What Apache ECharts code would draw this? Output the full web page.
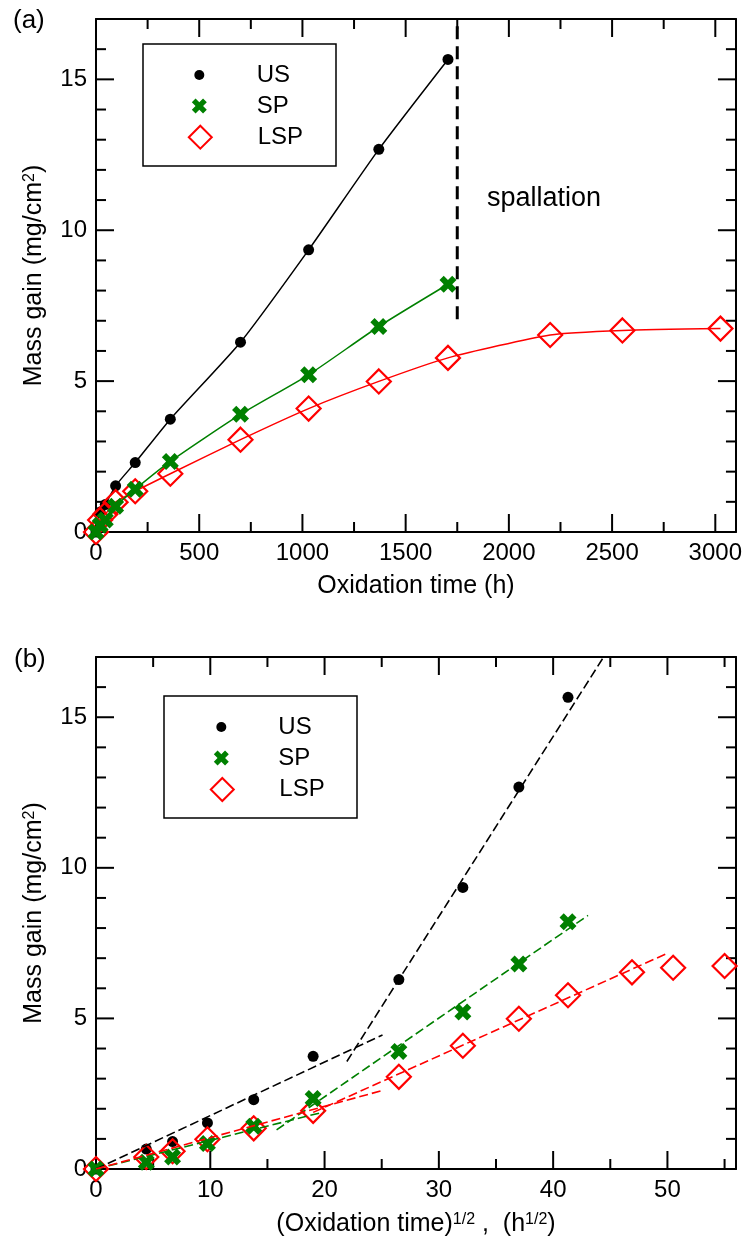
<!DOCTYPE html>
<html><head><meta charset="utf-8">
<script src="https://cdn.jsdelivr.net/npm/echarts@6.0.0/dist/echarts.min.js"></script>
<style>html,body{margin:0;padding:0;background:#fff}#c{width:745px;height:1247px}</style>
</head><body><div id="c"></div>
<script>
// ---- data ----
const hours = [0, 20, 45, 95, 190, 360, 700, 1030, 1370, 1705];
const hoursLSP = [0, 20, 45, 95, 190, 360, 700, 1030, 1370, 1705, 2200, 2550, 3025];
const sqrtHours = [0, 4.4, 6.7, 9.75, 13.8, 19.0, 26.5, 32.1, 37.0, 41.3];
const sqrtHoursLSP = [0, 4.4, 6.7, 9.75, 13.8, 19.0, 26.5, 32.1, 37.0, 41.3, 46.9, 50.5, 55.0];
const gainUS = [0, 0.66, 0.91, 1.53, 2.30, 3.74, 6.29, 9.35, 12.68, 15.66];
const gainSP = [0, 0.22, 0.40, 0.85, 1.42, 2.34, 3.90, 5.21, 6.81, 8.21];
const gainLSP = [0, 0.40, 0.59, 0.99, 1.35, 1.93, 3.06, 4.09, 4.99, 5.77, 6.53, 6.68, 6.74];
// fitted (dashed) lines in panel (b): [sqrt(h), mg/cm2] end points
const fitUS1 = [[0, 0], [25.07, 4.45]];
const fitUS2 = [[21.95, 3.57], [44.5, 17.05]];
const fitSP1 = [[0, 0], [19.9, 1.89]];
const fitSP2 = [[15.8, 1.30], [43.05, 8.42]];
const fitLSP1 = [[0, 0], [24.9, 2.59]];
const fitLSP2 = [[19.0, 1.88], [50.1, 7.18]];
// spallation marker in panel (a)
const spallationLine = [[1750, 7.05], [1750, 17]];
// axes
const xTicksA = [0, 500, 1000, 1500, 2000, 2500, 3000];
const xMaxA = 3100;
const xTicksB = [0, 10, 20, 30, 40, 50];
const xMaxB = 56;
const yTicks = [0, 5, 10, 15];
const yMax = 17;
const seriesNames = ['US', 'SP', 'LSP'];

const FONT = '"Liberation Sans", Arial, Helvetica, sans-serif';
const BLACK = '#000000', GREEN = '#008000', RED = '#ff0000';
const X_SYMBOL = 'path://M2.5,0L5,2.5L7.5,0L10,2.5L7.5,5L10,7.5L7.5,10L5,7.5L2.5,10L0,7.5L2.5,5L0,2.5Z';
const zip = (xs, ys) => xs.map((x, i) => [x, ys[i]]);

function axis(kind, gridIndex, ticks, max, position, showLabels, name, nameGap, nameRich) {
  const step = ticks[1] - ticks[0];
  const a = {
    type: 'value', gridIndex, position, min: ticks[0], max, interval: step,
    axisLine: { onZero: false, lineStyle: { color: BLACK, width: 2 } },
    axisTick: { show: false }, minorTick: { show: false },
    splitLine: { show: false }, minorSplitLine: { show: false },
    axisLabel: { show: showLabels, fontSize: 24, color: BLACK, fontFamily: FONT, margin: 9,
      formatter: v => (ticks.indexOf(v) >= 0 ? String(v) : '') }
  };
  if (name) { a.name = name; a.nameLocation = 'middle'; a.nameGap = nameGap;
    a.nameTextStyle = { fontSize: 25, color: BLACK, fontFamily: FONT, rich: nameRich }; }
  return a;
}
const supRich = { sup: { fontSize: 16, verticalAlign: 'top', fontFamily: FONT, color: BLACK } };
const yName = 'Mass gain (mg/cm{sup|2})';

// tick marks (major + minor, inward on all four sides) drawn through the axes' scales
function tickData(ticks, max, minorSplit, dir) {
  const step = ticks[1] - ticks[0], out = [];
  for (let k = 0; ticks[0] + k * step / minorSplit < max; k++) {
    const v = ticks[0] + k * step / minorSplit;
    const major = k % minorSplit === 0 ? 1 : 0;
    out.push(dir === 0 ? [v, 0, major, 0] : [0, v, major, 1]);
  }
  return out;
}
function renderTick(params, api) {
  const cs = params.coordSys;
  const major = api.value(2), dir = api.value(3);
  const len = major ? 18 : 10, w = 2;
  if (dir === 0) {
    const px = api.coord([api.value(0), 0])[0];
    return { type: 'group', children: [
      { type: 'rect', shape: { x: px - w / 2, y: cs.y + cs.height - len, width: w, height: len }, style: { fill: BLACK } },
      { type: 'rect', shape: { x: px - w / 2, y: cs.y, width: w, height: len }, style: { fill: BLACK } }
    ] };
  }
  const py = api.coord([0, api.value(1)])[1];
  return { type: 'group', children: [
    { type: 'rect', shape: { x: cs.x, y: py - w / 2, width: len, height: w }, style: { fill: BLACK } },
    { type: 'rect', shape: { x: cs.x + cs.width - len, y: py - w / 2, width: len, height: w }, style: { fill: BLACK } }
  ] };
}

const option = {
  animation: false,
  textStyle: { fontFamily: FONT, color: BLACK },
  grid: [
    { left: 96, top: 19, width: 640, height: 513, containLabel: false },
    { left: 96, top: 657, width: 640, height: 512, containLabel: false }
  ],
  xAxis: [
    axis('x', 0, xTicksA, xMaxA, 'bottom', true, 'Oxidation time (h)', 42, supRich),
    axis('x', 0, xTicksA, xMaxA, 'top', false),
    axis('x', 1, xTicksB, xMaxB, 'bottom', true, '(Oxidation time){sup|1/2} ,  (h{sup|1/2})', 43, supRich),
    axis('x', 1, xTicksB, xMaxB, 'top', false)
  ],
  yAxis: [
    axis('y', 0, yTicks, yMax, 'left', true, yName, 49, supRich),
    axis('y', 0, yTicks, yMax, 'right', false),
    axis('y', 1, yTicks, yMax, 'left', true, yName, 49, supRich),
    axis('y', 1, yTicks, yMax, 'right', false)
  ],
  legend: [],
  graphic: [
    { type: 'rect', shape: { x: 143, y: 44, width: 193, height: 122 }, style: { fill: 'none', stroke: BLACK, lineWidth: 1.5 }, z: 10 },
    { type: 'rect', shape: { x: 164, y: 696, width: 193, height: 122 }, style: { fill: 'none', stroke: BLACK, lineWidth: 1.5 }, z: 10 },
    { type: 'text', x: 13, y: 8, style: { text: '(a)', fontSize: 26, fontFamily: FONT, fill: BLACK, verticalAlign: 'top' } },
    { type: 'text', x: 14, y: 647, style: { text: '(b)', fontSize: 26, fontFamily: FONT, fill: BLACK, verticalAlign: 'top' } },
    { type: 'text', x: 487, y: 199, style: { text: 'spallation', fontSize: 27, fontFamily: FONT, fill: BLACK, verticalAlign: 'middle' } }
  ],
  series: [
    // tick marks
    { name: 'ticksA', type: 'custom', xAxisIndex: 0, yAxisIndex: 0, silent: true, z: 1,
      data: tickData(xTicksA, xMaxA, 2, 0).concat(tickData(yTicks, yMax, 5, 1)), renderItem: renderTick },
    { name: 'ticksB', type: 'custom', xAxisIndex: 2, yAxisIndex: 2, silent: true, z: 1,
      data: tickData(xTicksB, xMaxB, 2, 0).concat(tickData(yTicks, yMax, 5, 1)), renderItem: renderTick },
    // panel (a)
    { name: 'US', type: 'line', xAxisIndex: 0, yAxisIndex: 0, data: zip(hours, gainUS), smooth: 0.2,
      symbol: 'circle', symbolSize: 11, itemStyle: { color: BLACK }, lineStyle: { color: BLACK, width: 1.5 }, z: 2 },
    { name: 'LSP', type: 'line', xAxisIndex: 0, yAxisIndex: 0, data: zip(hoursLSP, gainLSP), smooth: 0.2,
      symbol: 'diamond', symbolSize: 24, itemStyle: { color: 'rgba(255,255,255,0)', borderColor: RED, borderWidth: 2.2 },
      lineStyle: { color: RED, width: 1.5 }, z: 3 },
    { name: 'SP', type: 'line', xAxisIndex: 0, yAxisIndex: 0, data: zip(hours, gainSP), smooth: 0.2,
      symbol: X_SYMBOL, symbolSize: 17, itemStyle: { color: GREEN }, lineStyle: { color: GREEN, width: 1.5 }, z: 4 },
    { name: 'spallation', type: 'line', xAxisIndex: 0, yAxisIndex: 0, data: spallationLine, symbol: 'none',
      lineStyle: { color: BLACK, width: 3, type: [13, 7] }, z: 5 },
    // panel (b)
    { name: 'US', type: 'scatter', xAxisIndex: 2, yAxisIndex: 2, data: zip(sqrtHours, gainUS),
      symbol: 'circle', symbolSize: 11, itemStyle: { color: BLACK, opacity: 1 }, z: 2 },
    { name: 'LSP', type: 'scatter', xAxisIndex: 2, yAxisIndex: 2, data: zip(sqrtHoursLSP, gainLSP),
      symbol: 'diamond', symbolSize: 24, itemStyle: { color: 'rgba(255,255,255,0)', borderColor: RED, borderWidth: 2.2, opacity: 1 }, z: 3 },
    { name: 'SP', type: 'scatter', xAxisIndex: 2, yAxisIndex: 2, data: zip(sqrtHours, gainSP),
      symbol: X_SYMBOL, symbolSize: 17, itemStyle: { color: GREEN, opacity: 1 }, z: 4 },
    ...[[fitUS1, BLACK], [fitUS2, BLACK], [fitSP1, GREEN], [fitSP2, GREEN], [fitLSP1, RED], [fitLSP2, RED]].map((f, i) => ({
      name: 'fit' + i, type: 'line', xAxisIndex: 2, yAxisIndex: 2, data: f[0], symbol: 'none',
      lineStyle: { color: f[1], width: 1.6, type: [9, 4] }, z: 5
    }))
  ]
};

// legends: one component per row so each marker keeps its own size
const legendRows = [
  { cx: 199.3, textX: 256.7, rows: [75, 106, 136.7] },
  { cx: 221.3, textX: 278.3, rows: [727, 758, 789] }
];
const legendIcons = {
  US: { icon: 'circle', size: 10, itemStyle: { color: BLACK } },
  SP: { icon: X_SYMBOL, size: 15, itemStyle: { color: GREEN } },
  LSP: { icon: 'diamond', size: 23, itemStyle: { color: 'rgba(255,255,255,0)', borderColor: RED, borderWidth: 2 } }
};
legendRows.forEach(panel => {
  seriesNames.forEach((n, i) => {
    const ic = legendIcons[n];
    const left = panel.cx - ic.size / 2;
    option.legend.push({
      data: [{ name: n, icon: ic.icon, itemStyle: ic.itemStyle }],
      orient: 'vertical', selectedMode: false, padding: 0,
      itemWidth: ic.size, itemHeight: ic.size,
      left: left, top: panel.rows[i] - 12,
      textStyle: { fontSize: 24, color: BLACK, fontFamily: FONT, padding: [0, 0, 0, panel.textX - (left + ic.size + 5)] }
    });
  });
});

const chart = echarts.init(document.getElementById('c'), null, { renderer: 'canvas' });
chart.setOption(option);
</script>
</body></html>
